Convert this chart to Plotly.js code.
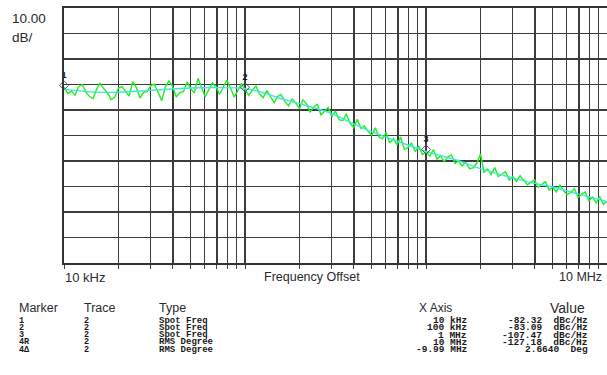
<!DOCTYPE html>
<html>
<head>
<meta charset="utf-8">
<script src="https://cdn.plot.ly/plotly-3.0.1.min.js"></script>
<style>
html,body{margin:0;padding:0;background:#fff;}
#chart{width:607px;height:375px;}
</style>
</head>
<body>
<div id="chart"></div>
<script>
// ---- data (frequency offsets in kHz, levels in dBc/Hz) ----
const freqKHz = [
 10,10.5,11,11.5,12,12.6,13.2,13.8,14.5,15.1,15.8,16.6,17.4,18.2,19.1,20,20.9,21.9,22.9,24,
 25.1,26.3,27.5,28.8,30.2,31.6,33.1,34.7,36.3,38,39.8,41.7,43.7,45.7,47.9,50.1,52.5,55,57.5,60.3,
 63.1,66.1,69.2,72.4,75.9,79.4,83.2,87.1,91.2,95.5,
 100,105,110,115,120,126,132,138,145,151,158,166,174,182,191,200,209,219,229,240,
 251,263,275,288,302,316,331,347,363,380,398,417,437,457,479,501,525,550,575,603,
 631,661,692,724,759,794,832,871,912,955,
 1000,1050,1100,1150,1200,1260,1320,1380,1450,1510,1580,1660,1740,1820,1910,2000,2090,2190,2290,2400,
 2510,2630,2750,2880,3020,3160,3310,3470,3630,3800,3980,4170,4370,4570,4790,5010,5250,5500,5750,6030,
 6310,6610,6920,7240,7590,7940,8320,8710,9120,9550,10000
];
const traceDb = [
 -83.0,-85.5,-84.6,-86.2,-83.1,-82.0,-84.9,-86.6,-87.5,-84.0,
 -81.5,-83.7,-85.2,-88.0,-86.9,-83.4,-82.8,-84.6,-86.5,-80.9,
 -83.2,-87.3,-85.1,-84.8,-82.4,-81.9,-85.4,-88.4,-83.0,-80.6,
 -82.7,-86.9,-85.2,-84.8,-81.0,-83.6,-85.3,-79.6,-83.1,-86.8,
 -84.0,-81.4,-82.9,-85.9,-83.0,-80.3,-83.4,-87.0,-84.5,-81.6,
 -83.9,-86.3,-84.1,-82.6,-85.6,-87.2,-84.4,-86.9,-89.1,-86.8,
 -85.9,-88.6,-90.4,-87.7,-89.3,-91.5,-88.0,-89.6,-92.9,-90.7,
 -89.8,-93.9,-92.5,-91.0,-94.6,-92.4,-95.8,-96.2,-93.5,-97.1,
 -98.9,-95.6,-99.2,-98.3,-100.4,-101.9,-99.0,-102.6,-103.3,-100.8,
 -104.9,-103.2,-105.7,-102.6,-107.4,-106.8,-104.9,-108.3,-106.1,-109.5,
 -108.4,-110.1,-107.5,-111.3,-109.9,-112.2,-110.4,-109.6,-113.0,-111.8,
 -113.9,-112.6,-115.0,-114.7,-112.8,-109.3,-116.4,-115.2,-117.3,-114.6,
 -118.1,-117.0,-116.2,-119.5,-118.1,-120.0,-117.8,-119.6,-121.3,-120.4,
 -119.4,-122.3,-121.0,-120.1,-123.4,-122.2,-124.1,-121.5,-123.6,-125.2,
 -124.3,-122.9,-126.3,-125.0,-124.2,-127.6,-126.1,-128.4,-125.9,-129.0,-127.8
];
const smoothKHz = [10,15,20,30,50,70,100,126,150,200,300,400,500,700,1000,1500,2000,3000,4000,5000,7000,10000];
const smoothDb  = [-83.8,-85.0,-85.0,-84.3,-83.4,-83.2,-83.6,-85.2,-87.0,-89.5,-93.3,-97.5,-100.5,-104.3,-108.2,-111.8,-115.0,-118.6,-120.8,-122.2,-125.0,-128.0];

const markerNames  = ["1","2","3","4R","4\u0394"];
const markerTrace  = ["2","2","2","2","2"];
const markerType   = ["Spot Freq","Spot Freq","Spot Freq","RMS Degree","RMS Degree"];
const markerXAxis  = ["10 kHz","100 kHz","1 MHz","10 MHz","-9.99 MHz"];
const markerValue  = ["-82.32 dBc/Hz","-83.09 dBc/Hz","-107.47 dBc/Hz","-127.18 dBc/Hz","2.6640 Deg"];
const spotLabels   = ["1","2","3"];
const spotFreqKHz  = [10,100,1000];
const spotDb       = [-82.32,-83.09,-107.47];

const gridFreqKHz = [10,20,30,40,50,60,70,80,90,100,200,300,400,500,600,700,800,900,
                     1000,2000,3000,4000,5000,6000,7000,8000,9000,10000];
const xTickLabels = ["10 kHz","10 MHz"];
const xTitle = "Frequency Offset";
const scaleLabels = ["10.00","dB/"];
const tableHeaders = ["Marker","Trace","Type","X Axis","Value"];
const yRange = [-152,-52];

// ---- layout helpers (pixel -> paper) ----
const W = 607, H = 375, L = 64, R = 0, T = 8, B = 112;
const PW = W - L - R, PH = H - T - B;
const px = x => (x - L) / PW;
const py = y => (T + PH - y) / PH;

const sans = "Liberation Sans, Arial, sans-serif";
const mono = "Liberation Mono, Courier New, monospace";
const txtColor = "#2a2a2a";

const annotations = [];
function ann(text, x, y, xanchor, font) {
  annotations.push({text, xref:"paper", yref:"paper", x:px(x), y:py(y),
    xanchor, yanchor:"middle", showarrow:false, font, align:xanchor, borderpad:0});
}
const bigFont = {family:sans, size:13.5, color:txtColor};
ann(scaleLabels[0], 11, 18.5, "left", bigFont);
ann(scaleLabels[1], 11, 37, "left", bigFont);
ann(xTickLabels[0], 64, 277, "left", {family:sans, size:13, color:txtColor});
ann(xTickLabels[1], 603, 277, "right", {family:sans, size:12.5, color:txtColor});
ann(xTitle, 312, 277, "center", {family:sans, size:12.5, color:txtColor});

const hdrFont = {family:sans, size:12.5, color:txtColor};
ann(tableHeaders[0], 18, 308, "left", hdrFont);
ann(tableHeaders[1], 83, 308, "left", hdrFont);
ann(tableHeaders[2], 158, 308, "left", hdrFont);
ann(tableHeaders[3], 453, 308, "right", {family:sans, size:12, color:txtColor});
ann(tableHeaders[4], 586, 308, "right", {family:sans, size:14, color:txtColor});

const rowFont = {family:mono, size:8.5, color:"#1a1a1a", weight:"bold"};
const rowFontR = {family:mono, size:9.5, color:"#1a1a1a", weight:"bold"};
for (let i = 0; i < markerNames.length; i++) {
  const y = 320.5 + i * 7.3;
  ann(markerNames[i], 18, y, "left", rowFont);
  ann(markerTrace[i], 83, y, "left", rowFont);
  ann(markerType[i], 158, y, "left", {family:mono, size:9, color:"#1a1a1a", weight:"bold"});
  ann(markerXAxis[i], 468, y, "right", rowFontR);
  ann(markerValue[i].replace(" ", "\u00a0\u00a0"), 589, y, "right", rowFontR);
}

const data = [
  {x:freqKHz, y:traceDb, type:"scatter", mode:"lines",
   line:{color:"#1ff01f", width:1.4}, hoverinfo:"skip"},
  {x:smoothKHz, y:smoothDb, type:"scatter", mode:"lines",
   line:{color:"#3ee6dc", width:1.4, shape:"spline"}, hoverinfo:"skip"},
  {x:spotFreqKHz, y:spotDb, type:"scatter", mode:"markers+text",
   text:spotLabels, textposition:"top center",
   textfont:{family:sans, size:9, color:"#111", weight:"bold"},
   marker:{symbol:"diamond-open", size:7, color:"#555", line:{width:1, color:"#555"}},
   cliponaxis:false, hoverinfo:"skip"}
];

const layout = {
  width:W, height:H,
  margin:{l:L, r:R, t:T, b:B, pad:0},
  paper_bgcolor:"#fff", plot_bgcolor:"#fff",
  showlegend:false,
  xaxis:{type:"log", range:[Math.log10(gridFreqKHz[0]), Math.log10(gridFreqKHz[gridFreqKHz.length-1])],
    tickmode:"array", tickvals:gridFreqKHz, showticklabels:false,
    ticks:"outside", ticklen:4, tickcolor:"#444", tickwidth:1,
    showgrid:true, gridcolor:"#3c3c3c", gridwidth:1.2,
    showline:true, linecolor:"#333", linewidth:1.6, mirror:true, zeroline:false},
  yaxis:{range:yRange, dtick:10, tick0:-152, showticklabels:false, ticks:"",
    showgrid:true, gridcolor:"#3c3c3c", gridwidth:1.2,
    showline:true, linecolor:"#333", linewidth:1.6, mirror:true, zeroline:false},
  annotations
};

Plotly.newPlot("chart", data, layout, {staticPlot:true, displayModeBar:false});
</script>
</body>
</html>
